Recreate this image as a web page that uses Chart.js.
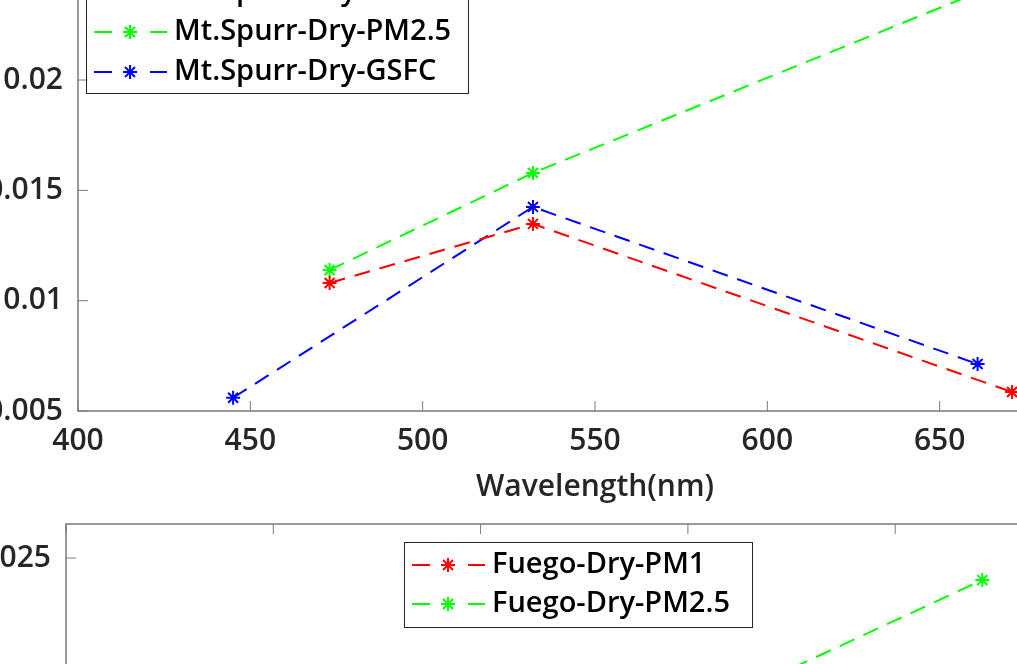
<!DOCTYPE html>
<html>
<head>
<meta charset="utf-8">
<script src="https://cdn.jsdelivr.net/npm/chart.js@4.4.1/dist/chart.umd.min.js"></script>
<style>
  html, body { margin: 0; padding: 0; background: #fff; overflow: hidden; }
  #page { position: relative; width: 1017px; height: 664px; overflow: hidden; background: #fff; }
  canvas { position: absolute; left: 0; }
  #topChart { top: -40px; }
  #bottomChart { top: 500px; }
</style>
</head>
<body>
<div id="page">
  <canvas id="topChart" width="1130" height="550"></canvas>
  <canvas id="bottomChart" width="1120" height="668"></canvas>
</div>
<script>
// --- Mt. Spurr panel (top) ---
const spurrPm1Wl = [473, 532, 671];
const spurrPm1 = [0.0108, 0.01348, 0.00586];
const spurrPm25Wl = [473, 532, 671];
const spurrPm25 = [0.01139, 0.01579, 0.0246];
const spurrGsfcWl = [445, 532, 661];
const spurrGsfc = [0.0056, 0.01425, 0.00713];

const topXTicks = [400, 450, 500, 550, 600, 650, 700];
const topYTicks = [0.005, 0.01, 0.015, 0.02, 0.025];

// --- Fuego panel (bottom) ---
const fuegoPm1Wl = [473, 532, 671];
const fuegoPm1 = [0.0135, 0.015, 0.0185];
const fuegoPm25Wl = [473, 532, 671];
const fuegoPm25 = [0.015, 0.0165, 0.02435];

const bottomXTicks = [450, 500, 550, 600, 650, 700];
const bottomYTicks = [0.01, 0.015, 0.02, 0.025];

const RED = "#ff0000", GREEN = "#00ff00", BLUE = "#0000ff";
const AXIS = "#7a7a7a";
const TEXT = "#262626";
const FONT = '"Open Sans", "Noto Sans", sans-serif';

Chart.defaults.font.family = FONT;
Chart.defaults.font.size = 30;
Chart.defaults.font.weight = "600";
Chart.defaults.color = TEXT;

function toPoints(xs, ys) {
  return xs.map((x, i) => ({ x: x, y: ys[i] }));
}

function series(label, color, xs, ys) {
  return {
    label: label,
    data: toPoints(xs, ys),
    borderColor: color,
    backgroundColor: color,
    borderWidth: 2,
    borderDash: [16, 10],
    pointStyle: "star",
    pointRadius: 7,
    pointBorderWidth: 2,
    pointBorderColor: color,
    pointBackgroundColor: color,
    fill: false,
    tension: 0
  };
}

function fmt(v) {
  return String(Number(v.toFixed(4)));
}

// MATLAB style box with ticks pointing inward
const matlabAxes = {
  id: "matlabAxes",
  beforeDatasetsDraw(chart) {
    const { ctx, chartArea: a, scales } = chart;
    const len = 10;
    ctx.save();
    ctx.strokeStyle = AXIS;
    ctx.lineWidth = 1.5;
    ctx.strokeRect(a.left, a.top, a.right - a.left, a.bottom - a.top);
    ctx.lineWidth = 1;
    ctx.beginPath();
    scales.x.ticks.forEach(t => {
      const px = scales.x.getPixelForValue(t.value);
      ctx.moveTo(px, a.bottom); ctx.lineTo(px, a.bottom - len);
      ctx.moveTo(px, a.top); ctx.lineTo(px, a.top + len);
    });
    scales.y.ticks.forEach(t => {
      const py = scales.y.getPixelForValue(t.value);
      ctx.moveTo(a.left, py); ctx.lineTo(a.left + len, py);
      ctx.moveTo(a.right, py); ctx.lineTo(a.right - len, py);
    });
    ctx.stroke();
    ctx.restore();
  }
};

// boxed legend, "- * -" symbol like MATLAB
const boxLegend = {
  id: "boxLegend",
  afterDraw(chart, args, opts) {
    const ctx = chart.ctx;
    ctx.save();
    ctx.fillStyle = "#fff";
    ctx.fillRect(opts.left, opts.top, opts.width, opts.height);
    ctx.strokeStyle = TEXT;
    ctx.lineWidth = 1;
    ctx.strokeRect(opts.left + 0.5, opts.top + 0.5, opts.width, opts.height);
    chart.data.datasets.forEach((ds, i) => {
      const y = opts.top + opts.firstRow + i * opts.rowGap;
      const x0 = opts.left;
      ctx.strokeStyle = ds.borderColor;
      ctx.lineWidth = 2;
      ctx.beginPath();
      ctx.moveTo(x0 + 8, y); ctx.lineTo(x0 + 26, y);
      ctx.moveTo(x0 + 64, y); ctx.lineTo(x0 + 81, y);
      ctx.stroke();
      Chart.helpers.drawPoint(ctx, { pointStyle: "star", radius: 7, borderWidth: 2, rotation: 0 }, x0 + 44, y);
      ctx.fillStyle = "#000";
      ctx.font = "600 29px " + FONT;
      ctx.textBaseline = "middle";
      ctx.fillText(ds.label, x0 + 88, y);
    });
    ctx.restore();
  }
};

function buildChart(id, cfg) {
  return new Chart(document.getElementById(id), {
    type: "line",
    data: { datasets: cfg.datasets },
    options: {
      responsive: false,
      animation: false,
      layout: { padding: cfg.padding },
      scales: {
        x: {
          type: "linear",
          min: cfg.xMin,
          max: cfg.xMax,
          afterBuildTicks: s => { s.ticks = cfg.xTicks.map(v => ({ value: v })); },
          afterFit: s => { s.height = cfg.xHeight; s.paddingLeft = 0; s.paddingRight = 0; },
          grid: { display: true, drawOnChartArea: false, drawTicks: false },
          border: { display: false },
          ticks: { padding: 12, maxRotation: 0, autoSkip: false, callback: v => fmt(v) },
          title: {
            display: !!cfg.xTitle,
            text: cfg.xTitle || "",
            padding: { top: 5, bottom: 5 },
            font: { size: 30, weight: "600" }
          }
        },
        y: {
          type: "linear",
          min: cfg.yMin,
          max: cfg.yMax,
          afterBuildTicks: s => { s.ticks = cfg.yTicks.map(v => ({ value: v })); },
          afterFit: s => { s.width = cfg.yWidth; s.paddingTop = 0; s.paddingBottom = 0; },
          grid: { display: true, drawOnChartArea: false, drawTicks: false },
          border: { display: false },
          ticks: { padding: 15, autoSkip: false, callback: v => fmt(v) }
        }
      },
      plugins: {
        legend: { display: false },
        tooltip: { enabled: false },
        boxLegend: cfg.legend
      }
    },
    plugins: [matlabAxes, boxLegend]
  });
}

buildChart("topChart", {
  datasets: [
    series("Mt.Spurr-Dry-PM1", RED, spurrPm1Wl, spurrPm1),
    series("Mt.Spurr-Dry-PM2.5", GREEN, spurrPm25Wl, spurrPm25),
    series("Mt.Spurr-Dry-GSFC", BLUE, spurrGsfcWl, spurrGsfc)
  ],
  padding: { top: 9.7, right: 18, left: 0, bottom: 0 },
  xMin: 400, xMax: 700, xTicks: topXTicks, xHeight: 99,
  yMin: 0.005, yMax: 0.025, yTicks: topYTicks, yWidth: 78,
  xTitle: "Wavelength(nm)",
  legend: { left: 86, top: 9, width: 382, height: 124, firstRow: 23, rowGap: 40 }
});

buildChart("bottomChart", {
  datasets: [
    series("Fuego-Dry-PM1", RED, fuegoPm1Wl, fuegoPm1),
    series("Fuego-Dry-PM2.5", GREEN, fuegoPm25Wl, fuegoPm25)
  ],
  padding: { top: 24, right: 17.5, left: 0, bottom: 0 },
  xMin: 450, xMax: 700, xTicks: bottomXTicks, xHeight: 100,
  yMin: 0.01, yMax: 0.026, yTicks: bottomYTicks, yWidth: 66,
  xTitle: "",
  legend: { left: 404, top: 42, width: 348, height: 85, firstRow: 23, rowGap: 39 }
});
</script>
</body>
</html>
